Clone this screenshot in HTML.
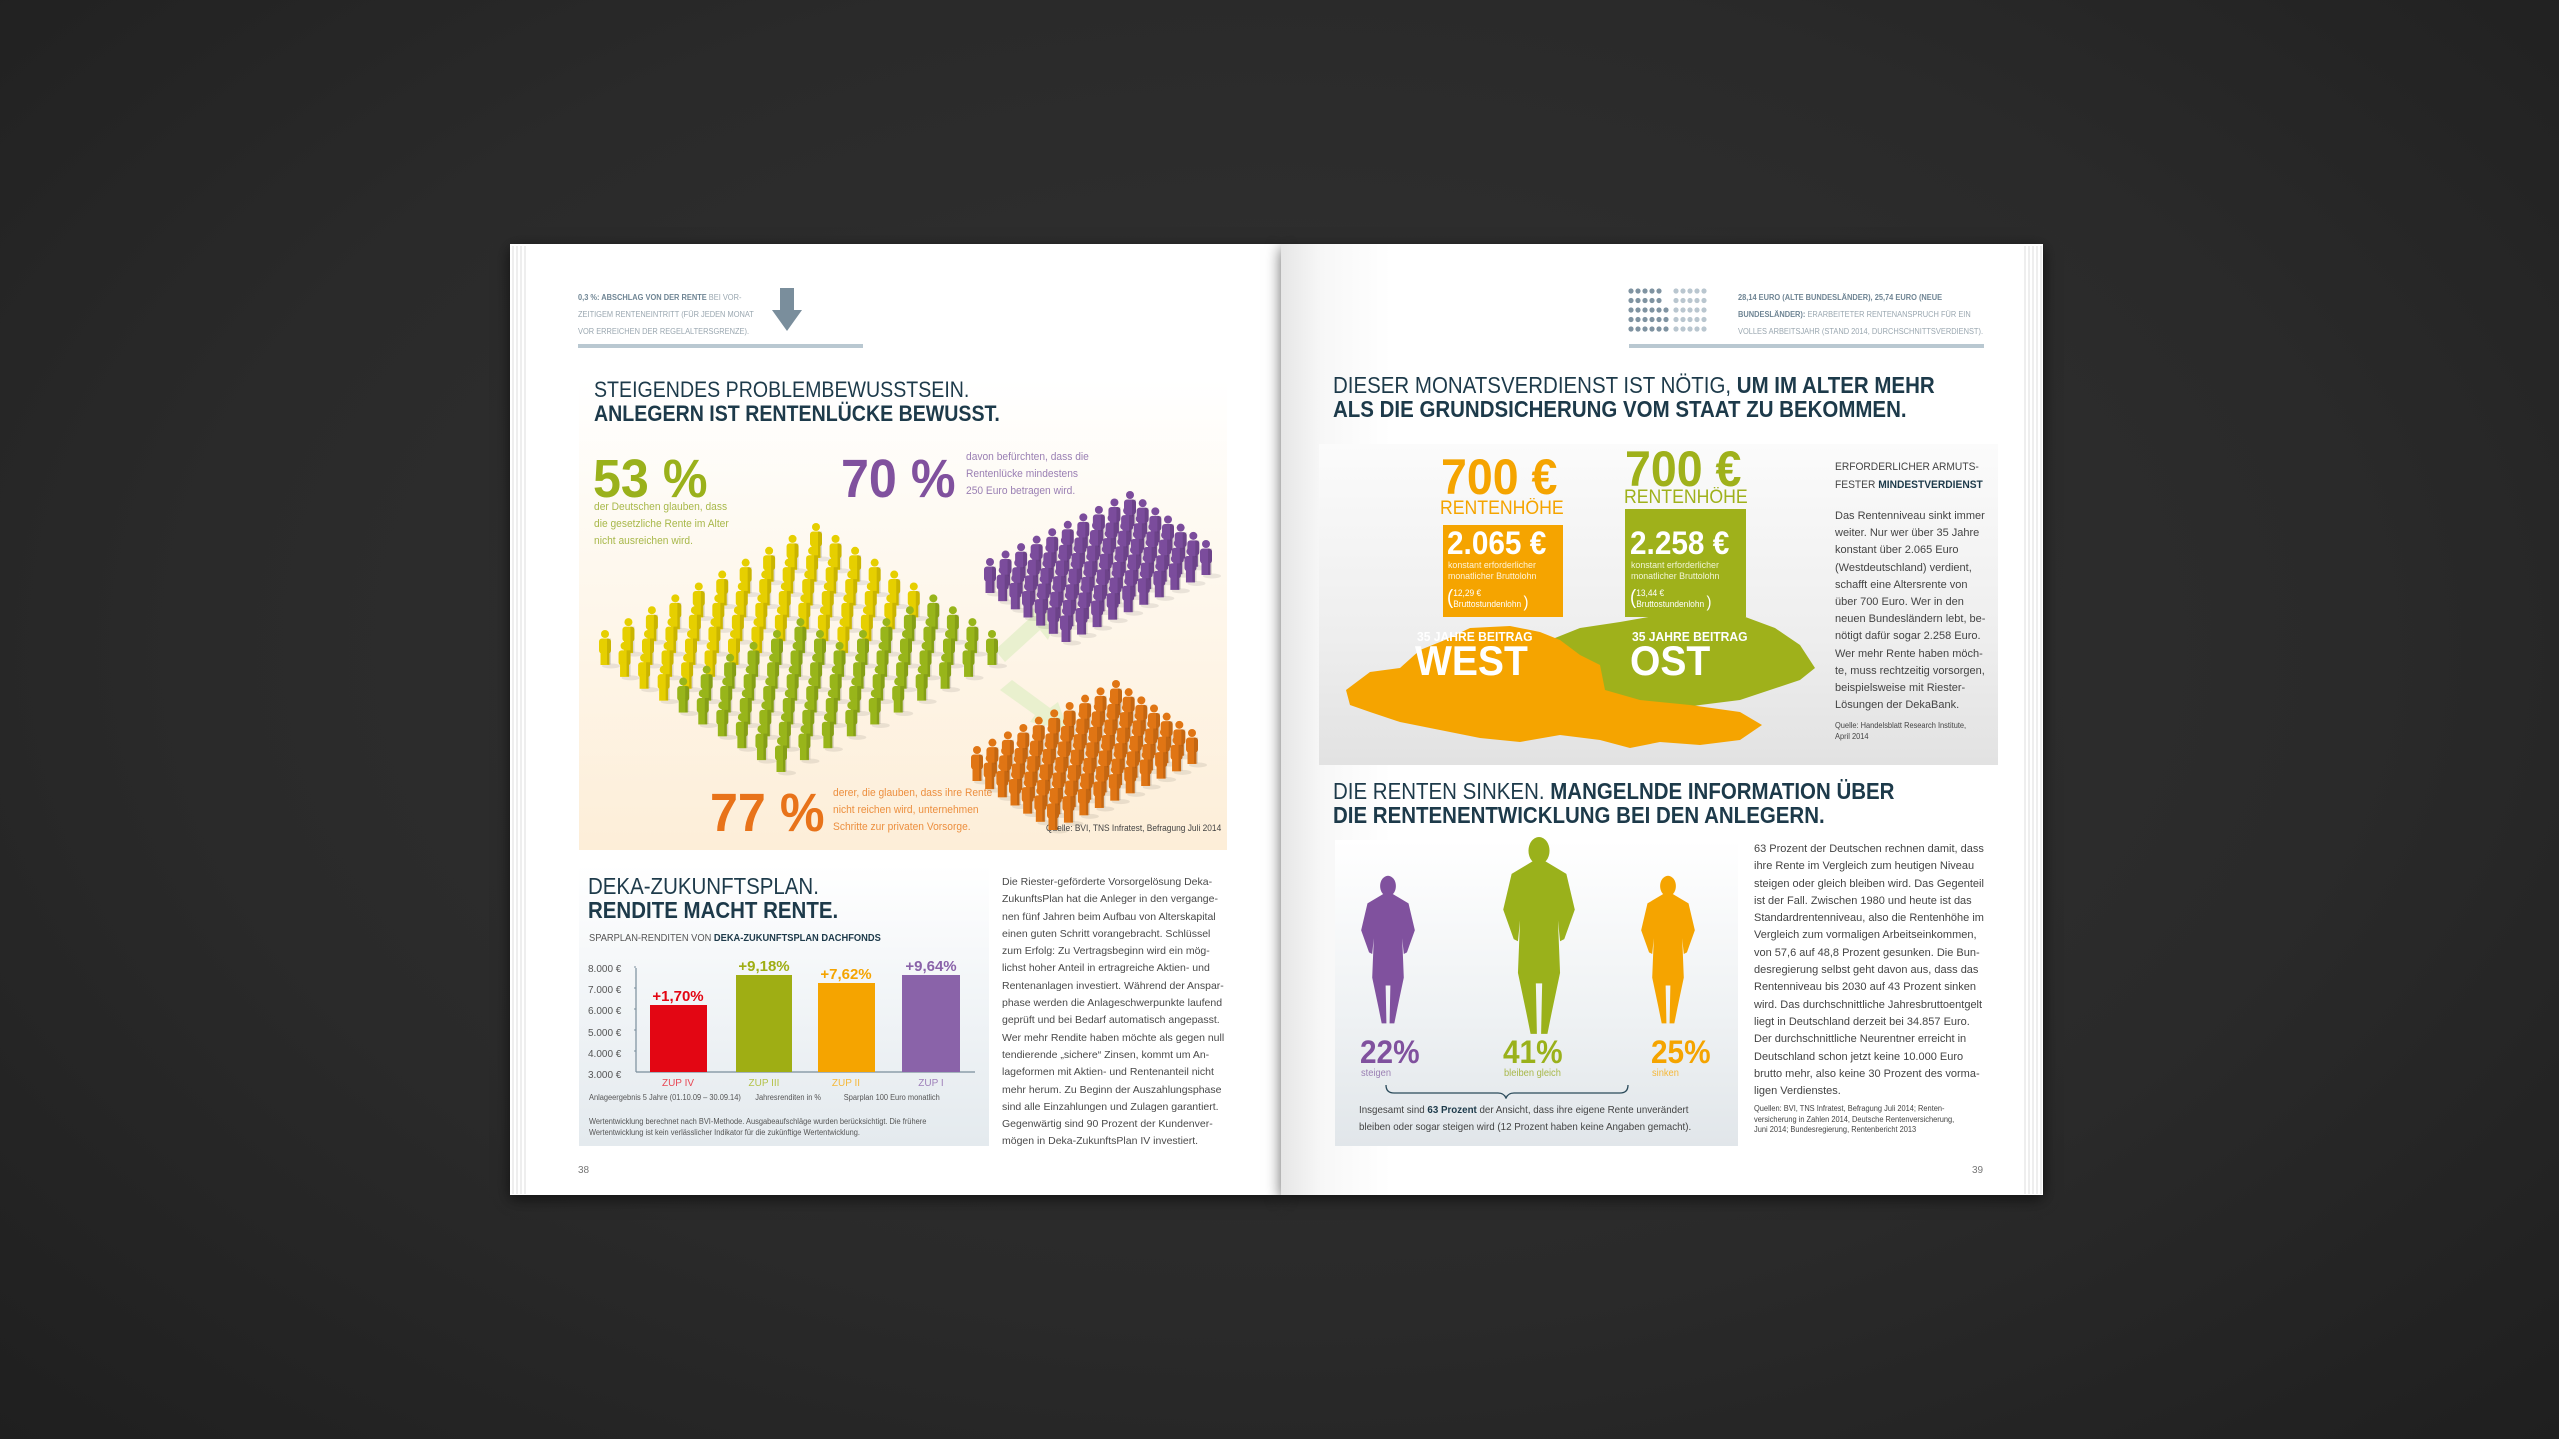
<!DOCTYPE html>
<html><head><meta charset="utf-8">
<style>
*{margin:0;padding:0;box-sizing:border-box}
body{width:2559px;height:1439px;overflow:hidden;background:#2b2b2b;position:relative;font-family:"Liberation Sans",sans-serif}
.a{position:absolute;white-space:nowrap}
.bg{position:absolute;left:0;top:0;width:2559px;height:1439px;background:radial-gradient(ellipse at 50% 45%,#333 0%,#2a2a2a 60%,#1f1f1f 100%)}
.page{position:absolute;background:#fff}
.h{color:#1d3a4a;transform:scaleX(.89);transform-origin:0 0}
.s{transform:scaleX(.93);transform-origin:0 0}
.b{font-weight:bold}
</style></head><body>
<div class="bg"></div>
<div class="page" style="left:510px;top:244px;width:772px;height:951px;box-shadow:0 4px 14px rgba(0,0,0,.6)"></div>
<div class="a" style="left:510px;top:246px;width:16px;height:948px;background:repeating-linear-gradient(90deg,#fff 0,#fff 2px,#ddd 3px,#fff 4px)"></div>
<div class="page" style="left:1281px;top:244px;width:762px;height:951px;background:linear-gradient(90deg,#e6e6e6 0,#f7f7f7 40px,#fff 110px,#fff 100%);box-shadow:0 4px 14px rgba(0,0,0,.6)"></div>
<div class="a" style="left:2022px;top:246px;width:20px;height:948px;background:repeating-linear-gradient(90deg,#fff 0,#fff 2px,#ddd 3px,#fff 4px)"></div>

<div class="a s" style="left:578px;top:289px;font-size:8px;line-height:17px;color:#9aa7b0"><span style="color:#6f8594;font-weight:bold">0,3 %: ABSCHLAG VON DER RENTE</span> BEI VOR-<br>ZEITIGEM RENTENEINTRITT (FÜR JEDEN MONAT<br>VOR ERREICHEN DER REGELALTERSGRENZE).</div>
<svg class="a" style="left:770px;top:288px" width="34" height="45"><rect x="10" y="0" width="14" height="24" fill="#7a8e9c"/><polygon points="2,22 32,22 17,43" fill="#7a8e9c"/></svg>
<div class="a" style="left:578px;top:344px;width:285px;height:4px;background:#b9c8d1"></div>

<div class="a" style="left:579px;top:379px;width:648px;height:471px;background:linear-gradient(180deg,#fff 0%,#fef8ee 40%,#fdeed8 100%)"></div>
<div class="a h" style="left:594px;top:378px;font-size:22px;line-height:24px">STEIGENDES PROBLEMBEWUSSTSEIN.<br><b>ANLEGERN IST RENTENLÜCKE BEWUSST.</b></div>
<div class="a b s" style="left:593px;top:448px;font-size:54px;color:#9ab11b">53 %</div>
<div class="a s" style="left:594px;top:499px;font-size:11px;line-height:17px;color:#a8b84a">der Deutschen glauben, dass<br>die gesetzliche Rente im Alter<br>nicht ausreichen wird.</div>
<div class="a b s" style="left:841px;top:448px;font-size:54px;color:#80519e">70 %</div>
<div class="a s" style="left:966px;top:449px;font-size:11px;line-height:17px;color:#9a7fb3">davon befürchten, dass die<br>Rentenlücke mindestens<br>250 Euro betragen wird.</div>
<div class="a b s" style="left:710px;top:782px;font-size:54px;color:#e8731a">77 %</div>
<div class="a s" style="left:833px;top:785px;font-size:11px;line-height:17px;color:#ec8f3f">derer, die glauben, dass ihre Rente<br>nicht reichen wird, unternehmen<br>Schritte zur privaten Vorsorge.</div>
<div class="a s" style="left:1046px;top:823px;font-size:9px;color:#444">Quelle: BVI, TNS Infratest, Befragung Juli 2014</div>
<svg class="a" id="ppl" style="left:0;top:0" width="1280" height="860"></svg>

<div class="a" style="left:579px;top:865px;width:410px;height:281px;background:linear-gradient(180deg,#fff 0%,#eef2f5 60%,#e4eaee 100%)"></div>
<div class="a h" style="left:588px;top:874px;font-size:23px;line-height:24px">DEKA-ZUKUNFTSPLAN.<br><b>RENDITE MACHT RENTE.</b></div>
<div class="a s" style="left:589px;top:933px;font-size:10px;color:#555">SPARPLAN-RENDITEN VON <b style="color:#1d3a4a">DEKA-ZUKUNFTSPLAN DACHFONDS</b></div>
<div class="a" style="left:588px;top:959px;font-size:10px;line-height:21.2px;color:#555">8.000 €<br>7.000 €<br>6.000 €<br>5.000 €<br>4.000 €<br>3.000 €</div>
<svg class="a" style="left:579px;top:860px" width="410" height="240">
<line x1="57" y1="108" x2="57" y2="212" stroke="#7a8e9c" stroke-width="1.2"/>
<line x1="57" y1="212" x2="396" y2="212" stroke="#7a8e9c" stroke-width="1.2"/>
<g stroke="#7a8e9c"><line x1="55" x2="57" y1="107" y2="107"/><line x1="55" x2="57" y1="128" y2="128"/><line x1="55" x2="57" y1="149" y2="149"/><line x1="55" x2="57" y1="170" y2="170"/><line x1="55" x2="57" y1="191" y2="191"/></g>
<rect x="71" y="145" width="57" height="67" fill="#e30613"/>
<rect x="157" y="115" width="56" height="97" fill="#9fae14"/>
<rect x="239" y="123" width="57" height="89" fill="#f5a400"/>
<rect x="323" y="115" width="58" height="97" fill="#8a63a9"/>
<g font-family="Liberation Sans,sans-serif" font-weight="bold" font-size="15" text-anchor="middle">
<text x="99" y="141" fill="#e30613">+1,70%</text><text x="185" y="111" fill="#9fae14">+9,18%</text><text x="267" y="119" fill="#f5a400">+7,62%</text><text x="352" y="111" fill="#8a63a9">+9,64%</text></g>
<g font-family="Liberation Sans,sans-serif" font-size="10" text-anchor="middle">
<text x="99" y="226" fill="#e84855">ZUP IV</text><text x="185" y="226" fill="#b4c24a">ZUP III</text><text x="267" y="226" fill="#f5b83a">ZUP II</text><text x="352" y="226" fill="#9f80ba">ZUP I</text></g>
</svg>
<div class="a s" style="left:589px;top:1093px;font-size:8px;color:#555">Anlageergebnis 5 Jahre (01.10.09 – 30.09.14)&nbsp;&nbsp;&nbsp;&nbsp;&nbsp;&nbsp;&nbsp;Jahresrenditen in %&nbsp;&nbsp;&nbsp;&nbsp;&nbsp;&nbsp;&nbsp;&nbsp;&nbsp;&nbsp;&nbsp;Sparplan 100 Euro monatlich</div>
<div class="a s" style="left:589px;top:1117px;font-size:8px;line-height:10.5px;color:#555">Wertentwicklung berechnet nach BVI-Methode. Ausgabeaufschläge wurden berücksichtigt. Die frühere<br>Wertentwicklung ist kein verlässlicher Indikator für die zukünftige Wertentwicklung.</div>
<div class="a" style="left:1002px;top:874px;font-size:10.5px;line-height:17.3px;color:#4a4a4a">Die Riester-geförderte Vorsorgelösung Deka-<br>ZukunftsPlan hat die Anleger in den vergange-<br>nen fünf Jahren beim Aufbau von Alterskapital<br>einen guten Schritt vorangebracht. Schlüssel<br>zum Erfolg: Zu Vertragsbeginn wird ein mög-<br>lichst hoher Anteil in ertragreiche Aktien- und<br>Rentenanlagen investiert. Während der Anspar-<br>phase werden die Anlageschwerpunkte laufend<br>geprüft und bei Bedarf automatisch angepasst.<br>Wer mehr Rendite haben möchte als gegen null<br>tendierende „sichere“ Zinsen, kommt um An-<br>lageformen mit Aktien- und Rentenanteil nicht<br>mehr herum. Zu Beginn der Auszahlungsphase<br>sind alle Einzahlungen und Zulagen garantiert.<br>Gegenwärtig sind 90 Prozent der Kundenver-<br>mögen in Deka-ZukunftsPlan IV investiert.</div>
<div class="a" style="left:578px;top:1165px;font-size:10px;color:#777">38</div>

<svg class="a" id="dots" style="left:1628px;top:288px" width="110" height="46"></svg>
<div class="a s" style="left:1738px;top:289px;font-size:8px;line-height:17px;color:#9aa7b0"><span style="color:#6f8594;font-weight:bold">28,14 EURO (ALTE BUNDESLÄNDER), 25,74 EURO (NEUE<br>BUNDESLÄNDER):</span> ERARBEITETER RENTENANSPRUCH FÜR EIN<br>VOLLES ARBEITSJAHR (STAND 2014, DURCHSCHNITTSVERDIENST).</div>
<div class="a" style="left:1629px;top:344px;width:355px;height:4px;background:#b9c8d1"></div>
<div class="a h" style="left:1333px;top:373px;font-size:23px;line-height:24px">DIESER MONATSVERDIENST IST NÖTIG, <b>UM IM ALTER MEHR</b><br><b>ALS DIE GRUNDSICHERUNG VOM STAAT ZU BEKOMMEN.</b></div>

<div class="a" style="left:1319px;top:444px;width:679px;height:321px;background:linear-gradient(180deg,#fbfbfb 0%,#eeeeee 60%,#e2e2e2 100%)"></div>
<svg class="a" style="left:1300px;top:440px" width="560" height="330">
<polygon fill="#9fb11b" points="250,200 280,188 320,182 360,175 400,172 440,175 475,188 500,205 515,228 500,240 470,250 440,260 400,265 360,272 320,265 300,250 280,232 260,220"/>
<polygon fill="#f5a400" points="46,250 70,232 100,228 120,210 145,200 170,188 210,186 240,192 260,200 280,215 300,225 305,250 340,260 390,265 440,272 462,285 440,300 400,305 360,302 330,308 300,300 260,295 220,302 180,298 140,290 100,282 70,272 50,265"/>
<polygon fill="#f5a400" points="143,85 263,85 263,177 143,177"/>
<polygon fill="#9fb11b" points="325,69 446,69 446,177 325,177"/>
</svg>
<div class="a b s" style="left:1441px;top:452px;font-size:50px;color:#f5a400;line-height:50px">700 €</div>
<div class="a s" style="left:1440px;top:499px;font-size:19px;color:#f5a400;line-height:20px">RENTENHÖHE</div>
<div class="a b s" style="left:1447px;top:526px;font-size:32px;color:#fff;line-height:34px">2.065 €</div>
<div class="a s" style="left:1448px;top:560px;font-size:9.5px;line-height:11px;color:#fff4d6">konstant erforderlicher<br>monatlicher Bruttolohn</div>
<div class="a s" style="left:1447px;top:588px;font-size:9px;line-height:10px;color:#fff"><span style="font-size:20px;float:left;line-height:20px">(</span>12,29 €<br>Bruttostundenlohn <span style="font-size:16px">)</span></div>
<div class="a b s" style="left:1625px;top:444px;font-size:50px;color:#9fb11b;line-height:50px">700 €</div>
<div class="a s" style="left:1624px;top:488px;font-size:19px;color:#9fb11b;line-height:20px">RENTENHÖHE</div>
<div class="a b s" style="left:1630px;top:526px;font-size:32px;color:#fff;line-height:34px">2.258 €</div>
<div class="a s" style="left:1631px;top:560px;font-size:9.5px;line-height:11px;color:#f2f6d6">konstant erforderlicher<br>monatlicher Bruttolohn</div>
<div class="a s" style="left:1630px;top:588px;font-size:9px;line-height:10px;color:#fff"><span style="font-size:20px;float:left;line-height:20px">(</span>13,44 €<br>Bruttostundenlohn <span style="font-size:16px">)</span></div>
<div class="a b s" style="left:1417px;top:629px;font-size:13px;color:#fff">35 JAHRE BEITRAG</div>
<div class="a b s" style="left:1415px;top:637px;font-size:42px;color:#fff;line-height:48px">WEST</div>
<div class="a b s" style="left:1632px;top:629px;font-size:13px;color:#fff">35 JAHRE BEITRAG</div>
<div class="a b s" style="left:1630px;top:637px;font-size:42px;color:#fff;line-height:48px">OST</div>
<div class="a s" style="left:1835px;top:458px;font-size:11px;line-height:18px;color:#444">ERFORDERLICHER ARMUTS-<br>FESTER <b style="color:#1d3a4a">MINDESTVERDIENST</b></div>
<div class="a" style="left:1835px;top:508px;font-size:11px;line-height:17.2px;color:#444">Das Rentenniveau sinkt immer<br>weiter. Nur wer über 35 Jahre<br>konstant über 2.065 Euro<br>(Westdeutschland) verdient,<br>schafft eine Altersrente von<br>über 700 Euro. Wer in den<br>neuen Bundesländern lebt, be-<br>nötigt dafür sogar 2.258 Euro.<br>Wer mehr Rente haben möch-<br>te, muss rechtzeitig vorsorgen,<br>beispielsweise mit Riester-<br>Lösungen der DekaBank.</div>
<div class="a s" style="left:1835px;top:720px;font-size:8px;line-height:11px;color:#444">Quelle: Handelsblatt Research Institute,<br>April 2014</div>

<div class="a h" style="left:1333px;top:779px;font-size:23px;line-height:24px">DIE RENTEN SINKEN. <b>MANGELNDE INFORMATION ÜBER</b><br><b>DIE RENTENENTWICKLUNG BEI DEN ANLEGERN.</b></div>
<div class="a" style="left:1335px;top:840px;width:403px;height:306px;background:linear-gradient(180deg,#fff 0%,#eef1f3 60%,#e1e6ea 100%)"></div>
<svg class="a" id="women" style="left:1335px;top:830px" width="403" height="300"></svg>
<div class="a b s" style="left:1360px;top:1035px;font-size:32px;color:#80519e;line-height:34px">22%</div>
<div class="a s" style="left:1361px;top:1068px;font-size:10px;color:#9a7fb3">steigen</div>
<div class="a b s" style="left:1503px;top:1035px;font-size:32px;color:#9ab11b;line-height:34px">41%</div>
<div class="a s" style="left:1504px;top:1068px;font-size:10px;color:#a8b84a">bleiben gleich</div>
<div class="a b s" style="left:1651px;top:1035px;font-size:32px;color:#f5a400;line-height:34px">25%</div>
<div class="a s" style="left:1652px;top:1068px;font-size:10px;color:#f5b83a">sinken</div>
<svg class="a" style="left:1380px;top:1083px" width="280" height="16"><path d="M6,2 Q6,10 14,10 L118,10 Q124,10 126,15 Q128,10 134,10 L240,10 Q248,10 248,2" fill="none" stroke="#2a4a5a" stroke-width="1.3"/></svg>
<div class="a s" style="left:1359px;top:1102px;font-size:10.5px;line-height:17px;color:#444">Insgesamt sind <b style="color:#1d3a4a">63 Prozent</b> der Ansicht, dass ihre eigene Rente unverändert<br>bleiben oder sogar steigen wird (12 Prozent haben keine Angaben gemacht).</div>
<div class="a" style="left:1754px;top:841px;font-size:11px;line-height:17.3px;color:#444">63 Prozent der Deutschen rechnen damit, dass<br>ihre Rente im Vergleich zum heutigen Niveau<br>steigen oder gleich bleiben wird. Das Gegenteil<br>ist der Fall. Zwischen 1980 und heute ist das<br>Standardrentenniveau, also die Rentenhöhe im<br>Vergleich zum vormaligen Arbeitseinkommen,<br>von 57,6 auf 48,8 Prozent gesunken. Die Bun-<br>desregierung selbst geht davon aus, dass das<br>Rentenniveau bis 2030 auf 43 Prozent sinken<br>wird. Das durchschnittliche Jahresbruttoentgelt<br>liegt in Deutschland derzeit bei 34.857 Euro.<br>Der durchschnittliche Neurentner erreicht in<br>Deutschland schon jetzt keine 10.000 Euro<br>brutto mehr, also keine 30 Prozent des vorma-<br>ligen Verdienstes.</div>
<div class="a s" style="left:1754px;top:1104px;font-size:8px;line-height:10.5px;color:#444">Quellen: BVI, TNS Infratest, Befragung Juli 2014; Renten-<br>versicherung in Zahlen 2014, Deutsche Rentenversicherung,<br>Juni 2014; Bundesregierung, Rentenbericht 2013</div>
<div class="a" style="left:1972px;top:1165px;font-size:10px;color:#777">39</div>

<script>
(function(){
var s='';
s+='<polygon points="995,650 1030,618 1025,608 1060,610 1048,640 1040,630 1005,662" fill="#e3efc8" opacity=".8"/>';
s+='<polygon points="1000,690 1035,715 1030,722 1068,730 1058,702 1050,708 1012,680" fill="#e3efc8" opacity=".8"/>';
var figs=[];
function grid(L,T,B,n,m,col){
 for(var i=0;i<n;i++)for(var j=0;j<m;j++){
  var x=L[0]+i*(T[0]-L[0])/(n-1)+j*(B[0]-L[0])/(m-1);
  var y=L[1]+i*(T[1]-L[1])/(n-1)+j*(B[1]-L[1])/(m-1);
  figs.push([x,y,col(i,j)]);
 }}
grid([605,630],[816,523],[781,737],10,10,function(i,j){return (j<4||(j<6&&i>5))?'#e6cf00':'#98b51a';});
grid([990,558],[1130,491],[1066,607],10,7,function(){return '#7b4c9c';});
grid([977,746],[1116,680],[1053,795],10,7,function(){return '#e07514';});
figs.sort(function(a,b){return a[1]-b[1];});
figs.forEach(function(f){
 var x=f[0],y=f[1],c=f[2];
 s+='<ellipse cx="'+(x+6)+'" cy="'+(y+36)+'" rx="9" ry="2.5" fill="#000" opacity=".08"/>';
 s+='<circle cx="'+x+'" cy="'+(y+4)+'" r="4" fill="'+c+'"/>';
 s+='<rect x="'+(x-6)+'" y="'+(y+8.5)+'" width="12" height="15" rx="3" fill="'+c+'"/>';
 s+='<rect x="'+(x-4.5)+'" y="'+(y+21)+'" width="9" height="14" fill="'+c+'"/>';
 s+='<rect x="'+(x+2)+'" y="'+(y+8.5)+'" width="4" height="26" fill="#000" opacity=".12"/>';
});
document.getElementById('ppl').innerHTML=s;
var d='';
for(var r=0;r<5;r++){for(var k=0;k<6;k++){if(k==5&&r<2)continue;d+='<circle cx="'+(3+k*7)+'" cy="'+(3+r*9.5)+'" r="2.6" fill="#7f93a1"/>';}
 for(var k=0;k<5;k++){d+='<circle cx="'+(48+k*7)+'" cy="'+(3+r*9.5)+'" r="2.6" fill="#b9c6cf"/>';}}
document.getElementById('dots').innerHTML=d;
function woman(cx,top,h,c){
 var k=h/190,p=function(x,y){return (cx+x*k)+','+(top+y*k);};
 return '<g fill="'+c+'"><ellipse cx="'+cx+'" cy="'+(top+14*k)+'" rx="'+(10*k)+'" ry="'+(13*k)+'"/>'+
 '<polygon points="'+[p(-6,24),p(6,24),p(26,36),p(34,70),p(24,98),p(20,100),p(18,80),p(20,130),p(12,168),p(8,188),p(2,188),p(3,140),p(-3,140),p(-2,188),p(-8,188),p(-12,168),p(-20,130),p(-18,80),p(-20,100),p(-24,98),p(-34,70),p(-26,36)].join(' ')+'"/></g>';
}
var w='';
w+=woman(1388-1335,875-830,150,'#80519e');
w+=woman(1539-1335,836-830,200,'#9ab11b');
w+=woman(1668-1335,875-830,150,'#f5a400');
document.getElementById('women').innerHTML=w;
})();
</script>
</body></html>
